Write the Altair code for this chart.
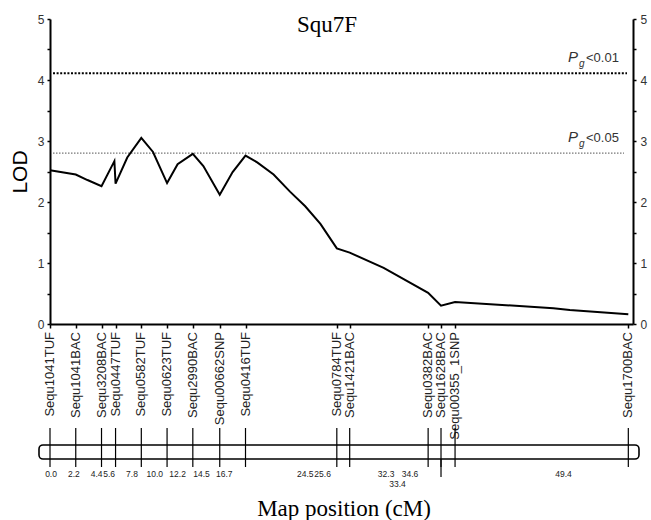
import altair as alt
import pandas as pd

# ---------------- data ----------------
markers = ["Sequ1041TUF", "Sequ1041BAC", "Sequ3208BAC", "Sequ0447TUF", "Sequ0582TUF",
           "Sequ0623TUF", "Sequ2990BAC", "Sequ00662SNP", "Sequ0416TUF", "Sequ0784TUF",
           "Sequ1421BAC", "Sequ0382BAC", "Sequ1628BAC", "Sequ00355_1SNP", "Sequ1700BAC"]
marker_cm = [0.0, 2.2, 4.4, 5.6, 7.8, 10.0, 12.2, 14.5, 16.7, 24.5, 25.6, 32.3, 33.4, 34.6, 49.4]
pos_labels = ["0.0", "2.2", "4.4", "5.6", "7.8", "10.0", "12.2", "14.5", "16.7",
              "24.5", "25.6", "32.3", "33.4", "34.6", "49.4"]

curve_cm = [0.0, 2.2, 3.2, 4.4, 5.5, 5.6, 6.6, 7.8, 8.8, 10.0, 10.9, 12.2, 13.1, 14.5,
            15.6, 16.7, 17.7, 19.1, 20.5, 21.8, 23.1, 24.5, 25.6, 28.5, 32.3, 33.4,
            34.6, 43.0, 44.4, 49.4]
curve_lod = [2.52, 2.45, 2.36, 2.26, 2.67, 2.30, 2.73, 3.05, 2.82, 2.31, 2.62, 2.79, 2.59,
             2.12, 2.49, 2.76, 2.65, 2.45, 2.17, 1.93, 1.64, 1.24, 1.17, 0.92, 0.51, 0.30,
             0.36, 0.26, 0.23, 0.16]

thr_lod = [4.11, 2.80]
thr_text = ["<0.01", "<0.05"]

title_text = ["Squ7F"]
xtitle_text = ["Map position (cM)"]

# ---------------- tables ----------------
curve_df = pd.DataFrame({"cM": curve_cm, "LOD": curve_lod})
marker_df = pd.DataFrame({"name": markers, "cM": marker_cm, "pos": pos_labels})
thr_df = pd.DataFrame({"lod": thr_lod, "txt": thr_text, "P": ["P", "P"], "g": ["g", "g"]})

SANS = "Liberation Sans"
SERIF = "Liberation Serif"

xscale = alt.Scale(domain=[0, 49.8], nice=False, zero=False)
xscale_bar = alt.Scale(domain=[-0.1, 56.1], nice=False, zero=False)
yscale = alt.Scale(domain=[0, 5], nice=False)

yvals = [i * 0.5 for i in range(11)]
ylab = "datum.value % 1 === 0 ? format(datum.value, 'd') : ''"

left_axis = alt.Axis(values=yvals, labelExpr=ylab,
                     orient="left", grid=False, domainColor="black", domainWidth=2,
                     tickColor="black", tickWidth=1.5, tickSize=3, labelPadding=3,
                     labelFont=SANS, labelFontSize=12, labelColor="#333",
                     title="LOD", titleFont=SANS, titleFontSize=21, titleFontWeight="normal",
                     titleColor="black", titleX=-30, titleY=152.5, titleAngle=270,
                     titleAlign="center", titleBaseline="middle")
right_axis = alt.Axis(values=yvals, labelExpr=ylab,
                      orient="right", grid=False, domainColor="black", domainWidth=2,
                      tickColor="black", tickWidth=1.5, tickSize=3, labelPadding=4,
                      labelFont=SANS, labelFontSize=12, labelColor="#333", title="")
bottom_axis = alt.Axis(values=marker_cm, labels=False, title="", grid=False,
                       domainColor="black", domainWidth=2, tickColor="black",
                       tickWidth=1.5, tickSize=4, orient="bottom")

base_curve = alt.Chart(curve_df)

curve = base_curve.mark_line(color="black", strokeWidth=2).encode(
    x=alt.X("cM:Q", scale=xscale, axis=bottom_axis),
    y=alt.Y("LOD:Q", scale=yscale, axis=left_axis),
)
right = base_curve.mark_line(strokeOpacity=0).encode(
    x=alt.X("cM:Q", scale=xscale, axis=None),
    y=alt.Y("LOD:Q", scale=yscale, axis=right_axis),
)

thr_base = alt.Chart(thr_df)
thr01 = thr_base.transform_filter(alt.datum.txt == "<0.01").mark_rule(
    color="black", strokeWidth=2, strokeDash=[2, 1.6]).encode(
    y=alt.Y("lod:Q", scale=yscale, axis=None), x=alt.value(3), x2=alt.value(577))
thr05 = thr_base.transform_filter(alt.datum.txt == "<0.05").mark_rule(
    color="#777", strokeWidth=1.3, strokeDash=[1.5, 1.5]).encode(
    y=alt.Y("lod:Q", scale=yscale, axis=None), x=alt.value(3), x2=alt.value(574))

pP = thr_base.mark_text(font=SANS, fontSize=15, fontStyle="italic", color="#333",
                        align="left", baseline="alphabetic", dy=-11).encode(
    y=alt.Y("lod:Q", scale=yscale, axis=None), x=alt.value(518), text="P:N")
pg = thr_base.mark_text(font=SANS, fontSize=10, fontStyle="italic", color="#333",
                        align="left", baseline="alphabetic", dy=-6).encode(
    y=alt.Y("lod:Q", scale=yscale, axis=None), x=alt.value(529), text="g:N")
pt = thr_base.mark_text(font=SANS, fontSize=13, color="#333",
                        align="left", baseline="alphabetic", dy=-11).encode(
    y=alt.Y("lod:Q", scale=yscale, axis=None), x=alt.value(536), text="txt:N")

mbase = alt.Chart(marker_df)
names = mbase.mark_text(font=SANS, fontSize=13, color="#222", angle=270,
                        align="right", baseline="middle").encode(
    x=alt.X("cM:Q", scale=xscale, axis=None), y=alt.value(313), text="name:N")

bar = alt.Chart(pd.DataFrame({"b": [0]})).mark_rect(
    fill="white", stroke="black", strokeWidth=1.6, cornerRadius=4).encode(
    x=alt.value(-11), x2=alt.value(589), y=alt.value(426), y2=alt.value(440))

links = mbase.mark_rule(color="black", strokeWidth=1.2).encode(
    x=alt.X("cM:Q", scale=xscale, axis=None), y=alt.value(409), y2=alt.value(448))
link_long = mbase.transform_filter(alt.datum.name == "Sequ1628BAC").mark_rule(
    color="black", strokeWidth=1.2).encode(
    x=alt.X("cM:Q", scale=xscale, axis=None), y=alt.value(440), y2=alt.value(458))

pos_row1 = mbase.transform_filter(
    (alt.datum.pos != "33.4") & (alt.datum.pos != "25.6")).mark_text(
    font=SANS, fontSize=8.5, color="#222", baseline="middle").encode(
    x=alt.X("cM:Q", scale=xscale_bar, axis=None), y=alt.value(455), text="pos:N")
pos_shift = mbase.transform_filter(alt.datum.pos == "25.6").mark_text(
    font=SANS, fontSize=8.5, color="#222", baseline="middle", dx=6).encode(
    x=alt.X("cM:Q", scale=xscale_bar, axis=None), y=alt.value(455), text="pos:N")
pos_row2 = mbase.transform_filter(alt.datum.pos == "33.4").mark_text(
    font=SANS, fontSize=8.5, color="#222", baseline="middle").encode(
    x=alt.X("cM:Q", scale=xscale_bar, axis=None), y=alt.value(465), text="pos:N")

title = alt.Chart(pd.DataFrame({"t": title_text})).mark_text(
    font=SERIF, fontSize=23, color="black", align="center", baseline="alphabetic").encode(
    x=alt.value(277), y=alt.value(13), text="t:N")
xtitle = alt.Chart(pd.DataFrame({"t": xtitle_text})).mark_text(
    font=SERIF, fontSize=23, color="black", align="center", baseline="alphabetic").encode(
    x=alt.value(294), y=alt.value(497), text="t:N")

chart = alt.layer(
    thr05, thr01, curve, right, pP, pg, pt, names, bar, links, link_long,
    pos_row1, pos_shift, pos_row2, title, xtitle
).resolve_scale(x="independent").resolve_axis(y="independent", x="independent").properties(
    width=583, height=305,
    padding={"left": 50, "top": 19, "right": 18, "bottom": 196},
    autosize=alt.AutoSizeParams(type="none"),
    background="white",
).configure_view(stroke=None)

chart.save("out.html", embed_options={"renderer": "svg", "actions": False})
